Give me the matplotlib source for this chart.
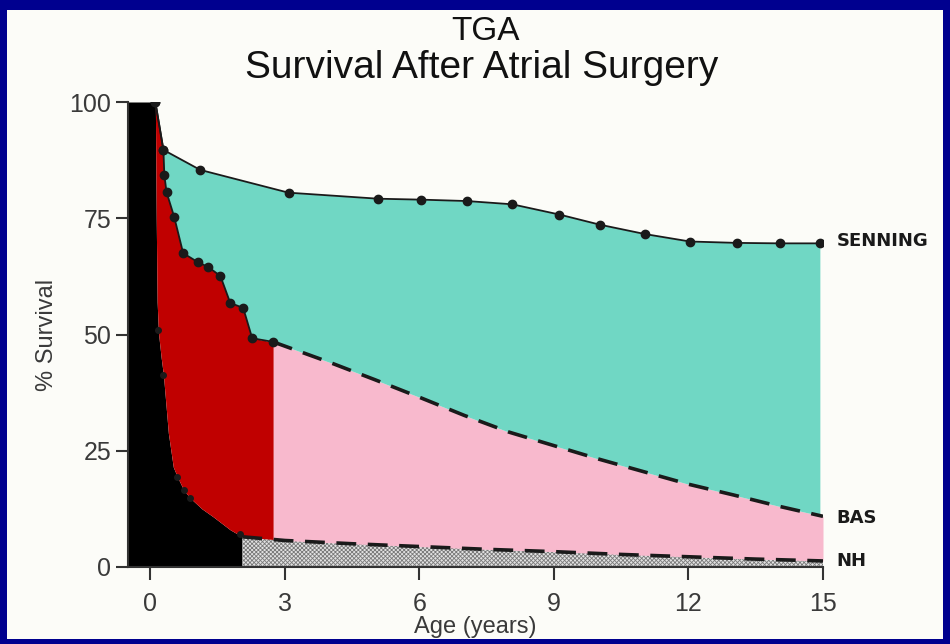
import numpy as np
import matplotlib
matplotlib.use("Agg")
import matplotlib.pyplot as plt
from matplotlib.patches import Rectangle

# Survival curves (% alive vs. years)
senning_x = [0.11, 0.29, 1.11, 3.08, 5.08, 6.04, 7.06, 8.07, 9.12, 10.03, 11.03, 12.03, 13.08, 14.04, 14.93]
senning_y = [100, 89.7, 85.4, 80.5, 79.2, 79.0, 78.7, 78.0, 75.8, 73.6, 71.6, 70.0, 69.7, 69.6, 69.6]

bas_x = [0.11, 0.29, 0.31, 0.36, 0.53, 0.73, 1.05, 1.29, 1.56, 1.78, 2.07, 2.27, 2.74]
bas_y = [100, 89.7, 84.3, 80.6, 75.3, 67.5, 65.6, 64.5, 62.6, 56.8, 55.7, 49.2, 48.4]
bas_late_x = [2.74, 4, 5, 6, 7, 8, 9, 10, 11, 12, 13, 14, 15]
bas_late_y = [48.4, 44.0, 40.3, 36.5, 32.6, 29.0, 26.1, 23.2, 20.5, 17.8, 15.5, 13.1, 10.9]

nh_x = [-0.5, 0.11, 0.13, 0.15, 0.18, 0.24, 0.29, 0.40, 0.51, 0.60, 0.74, 0.89, 1.15, 1.40, 1.78, 2.05]
nh_y = [100, 100, 75, 57, 50.3, 45, 41.3, 28.8, 21.5, 19.4, 16.6, 14.8, 12.5, 10.8, 8.0, 6.5]
nh_late_x = [2.05, 3, 4.5, 6, 7.5, 9, 10.5, 12, 13.5, 15]
nh_late_y = [6.5, 5.7, 5.0, 4.4, 3.8, 3.3, 2.7, 2.2, 1.7, 1.3]
nh_dot_x = [0.16, 0.29, 0.60, 0.74, 0.89, 2.0]
nh_dot_y = [51, 41.3, 19.4, 16.6, 14.8, 7.0]

curve_labels = ["SENNING", "BAS", "NH"]
label_y = [70, 10.6, 1.2]
x_ticks = [0, 3, 6, 9, 12, 15]
y_ticks = [0, 25, 50, 75, 100]

BLUE = "#00008f"
PAPER = "#fcfcf8"
TEAL = "#70d7c4"
RED = "#c00000"
PINK = "#f8b9cd"
INK = "#1a1a1a"
GREY = "#3a3a3a"
FONT = "Liberation Sans"

plt.rcParams["hatch.linewidth"] = 0.6

fig = plt.figure(figsize=(9.5, 6.44), dpi=100)
fig.patch.set_facecolor(BLUE)
fig.patches.append(Rectangle((7 / 950, 5 / 644), 936 / 950, 629 / 644,
                             transform=fig.transFigure, facecolor=PAPER,
                             edgecolor="none", zorder=-10))

ax = fig.add_axes([128 / 950, 77 / 644, 695 / 950, 465 / 644])
ax.set_zorder(5)
ax.patch.set_alpha(0)
ax.set_xlim(-0.5, 15)
ax.set_ylim(0, 100)

# common grid for the stacked bands
sx = np.array(senning_x)
bx = np.array(bas_x + bas_late_x[1:])
by = np.array(bas_y + bas_late_y[1:])
nx = np.array(nh_x + nh_late_x[1:])
ny = np.array(nh_y + nh_late_y[1:])
x = np.union1d(np.linspace(-0.5, 15, 3000), np.concatenate([sx, bx, nx]))
sen = np.interp(x, sx, senning_y)
bas = np.interp(x, bx, by)
nh = np.interp(x, nx, ny)

ax.fill_between(x, 0, nh, where=x <= 2.05, color="black", lw=0, zorder=1)
ax.fill_between(x, 0, nh, where=x >= 2.05, facecolor="#e2e2e2",
                edgecolor="#7a7a7a", hatch="xxxxxxxx", lw=0, zorder=1)
ax.fill_between(x, nh, bas, where=(x >= 0.11) & (x <= 2.74), color=RED, lw=0, zorder=1)
ax.fill_between(x, nh, bas, where=x >= 2.74, color=PINK, lw=0, zorder=1)
ax.fill_between(x, bas, sen, where=(x >= 0.11) & (x <= 14.93), color=TEAL, lw=0, zorder=1)

# curves
ax.plot(senning_x, senning_y, color=INK, lw=1.3, marker="o", ms=6, zorder=3)
ax.plot(bas_x, bas_y, color=INK, lw=1.3, marker="o", ms=6, zorder=3)
ax.plot(bas_late_x, bas_late_y, color=INK, lw=2.6, dashes=(5.5, 3.2), zorder=3)
ax.plot(nh_late_x, nh_late_y, color=INK, lw=2.6, dashes=(5.5, 3.2), zorder=3)
ax.plot(nh_dot_x, nh_dot_y, "o", color=INK, ms=4, zorder=3)

for name, yv in zip(curve_labels, label_y):
    ax.text(15.3, yv, name, fontsize=13, fontweight="bold", color=INK,
            family="DejaVu Sans", va="center", ha="left", clip_on=False)

# axes styling
for side in ("top", "right"):
    ax.spines[side].set_visible(False)
for side in ("left", "bottom"):
    ax.spines[side].set_color("#333333")
    ax.spines[side].set_linewidth(1.5)
ax.spines["bottom"].set_bounds(-0.5, 15)
ax.set_xticks(x_ticks)
ax.set_yticks(y_ticks)
ax.tick_params(axis="both", direction="out", length=9, width=1.5, color="#333333",
               labelsize=18, labelcolor=GREY)
ax.tick_params(axis="x", pad=9)
ax.tick_params(axis="y", pad=3)
for lab in ax.get_xticklabels() + ax.get_yticklabels():
    lab.set_family(FONT)

ax.set_xlabel("Age (years)", fontsize=17, color=GREY, family=FONT, labelpad=0)
ax.set_ylabel("% Survival", fontsize=17, color=GREY, family=FONT, labelpad=8)

fig.text(485 / 950, 1 - 31 / 644, "TGA", fontsize=24, ha="center", va="center",
         color="#111111", family=FONT)
fig.text(482 / 950, 1 - 68 / 644, "Survival After Atrial Surgery", fontsize=28,
         ha="center", va="center", color="#111111", family=FONT)

fig.savefig("out.png", dpi=100, facecolor=fig.get_facecolor())
